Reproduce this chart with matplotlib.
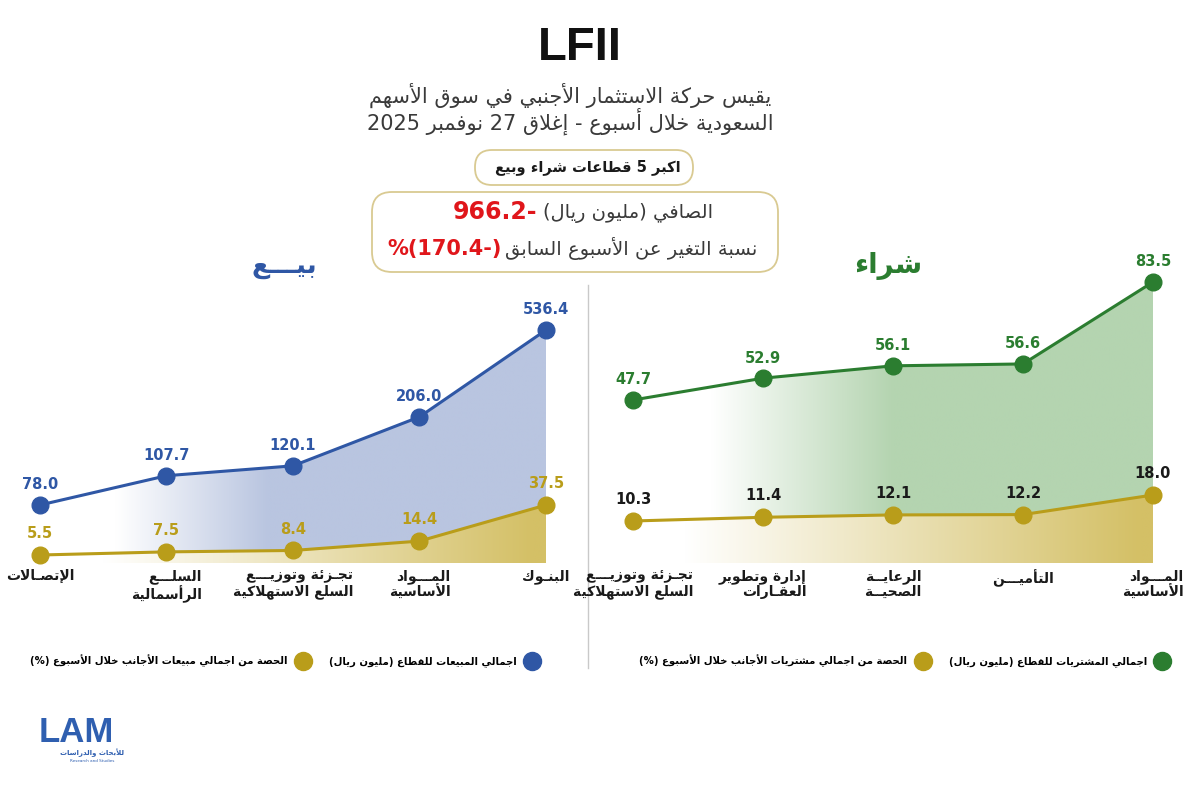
import re

import matplotlib
matplotlib.use("Agg")
import matplotlib.pyplot as plt
import numpy as np
from matplotlib.colors import to_rgb
from matplotlib.lines import Line2D
from matplotlib.patches import FancyBboxPatch

# ---- data (left-to-right as drawn) ----
sell_sectors = ["الإتصـالات", "السلـــع\nالرأسمالية", "تجـزئة وتوزيـــع\nالسلع الاستهلاكية",
                "المـــواد\nالأساسية", "البنـوك"]
sell_values = [78.0, 107.7, 120.1, 206.0, 536.4]
sell_share = [5.5, 7.5, 8.4, 14.4, 37.5]

buy_sectors = ["تجـزئة وتوزيـــع\nالسلع الاستهلاكية", "إدارة وتطوير\nالعقـارات", "الرعايــة\nالصحيــة",
               "التأميـــن", "المـــواد\nالأساسية"]
buy_values = [47.7, 52.9, 56.1, 56.6, 83.5]
buy_share = [10.3, 11.4, 12.1, 12.2, 18.0]

net_flow = -966.2      # million SAR
net_change = -170.4    # % vs previous week

title = "LFII"
subtitle = "يقيس حركة الاستثمار الأجنبي في سوق الأسهم\nالسعودية خلال أسبوع - إغلاق 27 نوفمبر 2025"
box_title = "اكبر 5 قطاعات شراء وبيع"
net_label = "الصافي (مليون ريال)"
change_label = "نسبة التغير عن الأسبوع السابق"
sell_title = "بيـــع"
buy_title = "شراء"
sell_legend = ["الحصة من اجمالي مبيعات الأجانب خلال الأسبوع (%)", "اجمالي المبيعات للقطاع (مليون ريال)"]
buy_legend = ["الحصة من اجمالي مشتريات الأجانب خلال الأسبوع (%)", "اجمالي المشتريات للقطاع (مليون ريال)"]

BLUE, BLUE_FILL = "#2f57a5", "#b9c5e0"
GOLD, GOLD_FILL = "#b99d1a", "#d4c066"
GREEN, GREEN_FILL = "#2b7d30", "#b4d4b0"
RED = "#e0161b"
BORDER = "#d9ca92"

plt.rcParams["font.family"] = ["DejaVu Sans"]

# ---- minimal Arabic shaping + right-to-left ordering (no reshaper available) ----
_letters = "ءآأؤإئابةتثجحخدذرزسشصضطظعغفقكلمنهوىي"
_nforms = [1, 2, 2, 2, 2, 4, 2, 4, 2, 4, 4, 4, 4, 4, 2, 2, 2, 2,
           4, 4, 4, 4, 4, 4, 4, 4, 4, 4, 4, 4, 4, 4, 4, 2, 2, 4]
FORMS = {}
_start = 0xFE80
for _ch, _n in zip(_letters, _nforms):
    FORMS[_ch] = (_start, _n)
    _start += _n
LAM_ALEF = {"آ": 0xFEF5, "أ": 0xFEF7, "إ": 0xFEF9, "ا": 0xFEFB}
TATWEEL = "\u0640"


def _joinable(ch):
    return ch == TATWEEL or (ch in FORMS and FORMS[ch][1] > 1)


def _shape(s):
    out = []
    prev_joins = False
    i = 0
    while i < len(s):
        c = s[i]
        nxt = s[i + 1] if i + 1 < len(s) else ""
        if c == "ل" and nxt in LAM_ALEF:
            out.append(chr(LAM_ALEF[nxt] + (1 if prev_joins else 0)))
            prev_joins = False
            i += 2
            continue
        if c == TATWEEL:
            out.append(c)
            prev_joins = _joinable(nxt)
        elif c in FORMS:
            start, k = FORMS[c]
            jn = k == 4 and _joinable(nxt)
            jp = prev_joins and k > 1
            if k == 1:
                idx = 0
            elif k == 2:
                idx = 1 if jp else 0
            else:
                idx = (3 if jn else 1) if jp else (2 if jn else 0)
            out.append(chr(start + idx))
            prev_joins = jn
        else:
            out.append(c)
            prev_joins = False
        i += 1
    return "".join(out)


def ar(text):
    lines = []
    for line in text.split("\n"):
        vis = _shape(line)[::-1]
        vis = re.sub(r"[0-9A-Za-z][0-9A-Za-z.,]*", lambda m: m.group(0)[::-1], vis)
        lines.append(vis.translate(str.maketrans("()", ")(")))
    return "\n".join(lines)


# ---- figure + pixel canvas ----
W, H = 1200, 786
fig = plt.figure(figsize=(W / 100, H / 100), dpi=100)
canvas = fig.add_axes([0, 0, 1, 1])
canvas.set_xlim(0, W)
canvas.set_ylim(H, 0)
canvas.axis("off")

canvas.text(580, 48, title, ha="center", va="center", fontsize=34, fontweight="bold",
            family="Liberation Sans", color="#111111")
canvas.text(570, 109, ar(subtitle), ha="center", va="center", fontsize=15, color="#3a3a3a",
            linespacing=1.0)

canvas.add_patch(FancyBboxPatch((475, 150), 218, 35, boxstyle="round,pad=0,rounding_size=17",
                                fc="white", ec=BORDER, lw=1.3))
canvas.text(588, 167, ar(box_title), ha="center", va="center", fontsize=10.5,
            fontweight="bold", color="#1a1a1a")

canvas.add_patch(FancyBboxPatch((372, 192), 406, 80, boxstyle="round,pad=0,rounding_size=20",
                                fc="white", ec=BORDER, lw=1.3))
canvas.text(713, 213, ar(net_label), ha="right", va="center", fontsize=14, color="#3a3a3a")
canvas.text(537, 212, f"{abs(net_flow):.1f}-", ha="right", va="center", fontsize=17,
            fontweight="bold", color=RED)
canvas.text(757, 249, ar(change_label), ha="right", va="center", fontsize=14, color="#3a3a3a")
canvas.text(502, 249, f"%({abs(net_change):.1f}-)", ha="right", va="center", fontsize=15,
            fontweight="bold", color=RED)

canvas.text(284, 266, ar(sell_title), ha="center", va="center", fontsize=19,
            fontweight="bold", color=BLUE)
canvas.text(888, 266, ar(buy_title), ha="center", va="center", fontsize=20,
            fontweight="bold", color=GREEN)

canvas.plot([588, 588], [285, 668], color="#c9c9c9", lw=1)

# logo
canvas.text(76, 733, "LAM", ha="center", va="center", fontsize=25, fontweight="bold",
            family="Liberation Sans", color="#2f5fb0")
canvas.text(92, 753, ar("للأبحاث والدراسات"), ha="center", va="center", fontsize=5,
            fontweight="bold", color="#2f5fb0")
canvas.text(92, 761, "Research and Studies", ha="center", va="center", fontsize=3,
            color="#2f5fb0")

PANEL_TOP, PANEL_BOTTOM = 270, 563


def px_axes(x0, x1):
    return fig.add_axes([x0 / W, 1 - PANEL_BOTTOM / H, (x1 - x0) / W,
                         (PANEL_BOTTOM - PANEL_TOP) / H])


def fit_limits(vals, anchor, log):
    f = np.log10 if log else (lambda v: v)
    a0, a1 = f(vals[0]), f(vals[-1])
    p0, p1 = anchor
    per_px = (a1 - a0) / (p0 - p1)
    lo = a0 - (PANEL_BOTTOM - p0) * per_px
    hi = a1 + (p1 - PANEL_TOP) * per_px
    return (10 ** lo, 10 ** hi) if log else (lo, hi)


def gradient_area(ax, x, y, color, g0, g1):
    base = ax.get_ylim()[0]
    poly = ax.fill_between(x, y, base, facecolor="none", edgecolor="none")
    xl = ax.get_xlim()
    f0 = (g0 - xl[0]) / (xl[1] - xl[0])
    f1 = (g1 - xl[0]) / (xl[1] - xl[0])
    t = np.clip((np.linspace(0, 1, 400) - f0) / (f1 - f0), 0, 1)[:, None]
    rgb = (1 - t) * np.ones(3) + t * np.array(to_rgb(color))
    im = ax.imshow(rgb[None, :, :], extent=[0, 1, 0, 1], transform=ax.transAxes,
                   aspect="auto", interpolation="bilinear", zorder=1)
    im.set_clip_path(poly.get_paths()[0], transform=ax.transData)


def panel(px_first, px_last, ax_x0, ax_x1, sectors, main, share, main_color, fill_color,
          main_anchor, share_anchor, share_lbl_color, grads, legend_labels, legend_x):
    x = np.arange(len(sectors))
    per = (px_last - px_first) / (len(x) - 1)
    ax = px_axes(ax_x0, ax_x1)
    ax.set_xlim(-(px_first - ax_x0) / per, len(x) - 1 + (ax_x1 - px_last) / per)
    ax.set_yscale("log")
    ax.set_ylim(*fit_limits(main, main_anchor, True))
    ax.set_autoscale_on(False)
    ax.axis("off")
    ax.patch.set_alpha(0)

    ax2 = ax.twinx()
    ax2.set_ylim(*fit_limits(share, share_anchor, False))
    ax2.set_autoscale_on(False)
    ax2.axis("off")

    gradient_area(ax, x, main, fill_color, *grads[0])
    ax.plot(x, main, color=main_color, lw=2.2, marker="o", ms=12, zorder=3, clip_on=False)
    for xi, v in zip(x, main):
        ax.annotate(f"{v:.1f}", (xi, v), xytext=(0, 9), textcoords="offset points",
                    ha="center", va="bottom", fontsize=10.5, fontweight="bold",
                    color=main_color, annotation_clip=False)

    gradient_area(ax2, x, share, GOLD_FILL, *grads[1])
    ax2.plot(x, share, color=GOLD, lw=2.2, marker="o", ms=12, zorder=3, clip_on=False)
    for xi, v in zip(x, share):
        ax2.annotate(f"{v:.1f}", (xi, v), xytext=(0, 10), textcoords="offset points",
                     ha="center", va="bottom", fontsize=10.5, fontweight="bold",
                     color=share_lbl_color, annotation_clip=False)

    for xi, name in zip(x, sectors):
        ax.text(xi, -0.02, ar(name), transform=ax.get_xaxis_transform(), ha="center",
                va="top", fontsize=10, fontweight="bold", color="#1a1a1a",
                multialignment="right", linespacing=1.1)

    handles = [Line2D([], [], ls="", marker="o", ms=13, color=c) for c in (GOLD, main_color)]
    fig.legend(handles, [ar(s) for s in legend_labels], loc="center",
               bbox_to_anchor=(legend_x / W, 1 - 661 / H), ncol=2, frameon=False,
               markerfirst=False, prop={"weight": "bold", "size": 7.3},
               columnspacing=2.0, handletextpad=0.9, handlelength=1.2)


panel(40, 546, 10, 576, sell_sectors, sell_values, sell_share, BLUE, BLUE_FILL,
      (505, 330), (555, 505), GOLD, ((0.6, 1.8), (0.5, 3.9)), sell_legend, 284)
panel(633, 1153, 600, 1190, buy_sectors, buy_values, buy_share, GREEN, GREEN_FILL,
      (400, 282), (521, 495), "#1a1a1a", ((0.6, 2.0), (0.4, 3.9)), buy_legend, 904)

fig.savefig("out.png", dpi=100, facecolor="white")
